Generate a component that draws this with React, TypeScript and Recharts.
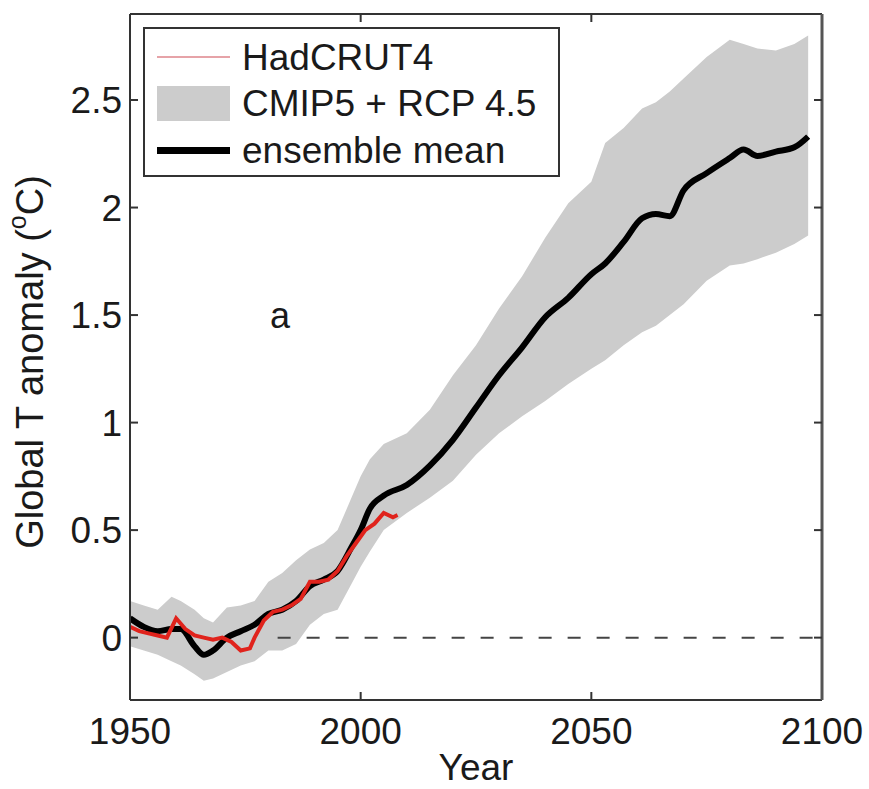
import React from 'react';
import { Area, ComposedChart, Line, ReferenceDot, ReferenceLine, XAxis, YAxis } from 'recharts';

const modelYears = [
  1950, 1953, 1956, 1959, 1961, 1964, 1966, 1968, 1971, 1974,
  1977, 1980, 1983, 1986, 1989, 1992, 1995, 1998, 2000, 2002,
  2005, 2010, 2015, 2020, 2025, 2030, 2035, 2040, 2045, 2050,
  2053, 2057, 2061, 2064, 2067, 2070, 2075, 2080, 2083, 2086,
  2090, 2094, 2097,
];
const ensembleMean = [
  0.09, 0.05, 0.03, 0.04, 0.04, -0.04, -0.08, -0.06, 0.0, 0.03,
  0.06, 0.11, 0.13, 0.17, 0.24, 0.27, 0.31, 0.42, 0.5, 0.6,
  0.66, 0.71, 0.8, 0.92, 1.07, 1.22, 1.35, 1.49, 1.58, 1.69,
  1.74, 1.84, 1.95, 1.97, 1.96, 2.08, 2.16, 2.23, 2.27, 2.24,
  2.26, 2.28, 2.33,
];
const rangeHigh = [
  0.17, 0.15, 0.13, 0.19, 0.17, 0.13, 0.09, 0.07, 0.14, 0.15,
  0.17, 0.26, 0.3, 0.36, 0.41, 0.44, 0.5, 0.65, 0.75, 0.83,
  0.9, 0.95, 1.06, 1.22, 1.36, 1.53, 1.68, 1.86, 2.02, 2.12,
  2.3, 2.37, 2.46, 2.49, 2.54, 2.6, 2.7, 2.78, 2.76, 2.74,
  2.73, 2.76, 2.8,
];
const rangeLow = [
  -0.04, -0.06, -0.08, -0.11, -0.13, -0.17, -0.2, -0.19, -0.16, -0.13,
  -0.11, -0.06, -0.06, -0.03, 0.06, 0.11, 0.13, 0.25, 0.33, 0.4,
  0.5, 0.58, 0.65, 0.73, 0.85, 0.95, 1.03, 1.1, 1.18, 1.25,
  1.29, 1.36, 1.42, 1.45, 1.5, 1.55, 1.66, 1.73, 1.74, 1.76,
  1.79, 1.83, 1.87,
];

const hadYears = [
  1950, 1952, 1954, 1956, 1958, 1960, 1962, 1964, 1966, 1968,
  1970, 1972, 1974, 1976, 1977, 1979, 1981, 1983, 1985, 1987,
  1989, 1991, 1993, 1995, 1997, 1999, 2001, 2003, 2005, 2007, 2008,
];
const hadValues = [
  0.05, 0.03, 0.02, 0.01, 0.0, 0.09, 0.04, 0.01, 0.0, -0.01,
  0.0, -0.02, -0.06, -0.05, 0.0, 0.08, 0.12, 0.13, 0.15, 0.18,
  0.26, 0.26, 0.27, 0.31, 0.38, 0.44, 0.5, 0.53, 0.58, 0.56, 0.57,
];

const xTicks = [1950, 2000, 2050, 2100];
const yTicks = [0, 0.5, 1, 1.5, 2, 2.5];

const modelData = modelYears.map((year, i) => ({
  year,
  mean: ensembleMean[i],
  range: [rangeLow[i], rangeHigh[i]],
}));
const hadData = hadYears.map((year, i) => ({ year, had: hadValues[i] }));

const FONT = '"Liberation Sans", Arial, Helvetica, sans-serif';
const AXIS = '#333';
const tickStyle = { fontSize: 37, fill: '#1a1a1a', fontFamily: FONT };

function LegendBox() {
  const row = { display: 'flex', alignItems: 'center', height: 46.5 };
  const text = { fontSize: 37, fontFamily: FONT, color: '#1a1a1a', marginLeft: 12, lineHeight: 1 };
  return (
    <div
      style={{
        position: 'absolute',
        left: 143,
        top: 27,
        width: 401,
        height: 141,
        border: `2px solid ${AXIS}`,
        background: '#fff',
        paddingTop: 5,
        paddingLeft: 12,
      }}
    >
      <div style={row}>
        <div style={{ width: 73, height: 2, background: '#e6a3a8' }} />
        <span style={text}>HadCRUT4</span>
      </div>
      <div style={row}>
        <div style={{ width: 73, height: 35, background: '#cccccc' }} />
        <span style={text}>CMIP5 + RCP 4.5</span>
      </div>
      <div style={row}>
        <div style={{ width: 73, height: 7, background: '#000' }} />
        <span style={text}>ensemble mean</span>
      </div>
    </div>
  );
}

function YLabel() {
  return (
    <text
      x={30}
      y={362}
      transform="rotate(-90, 30, 362)"
      textAnchor="middle"
      dominantBaseline="central"
      fontSize={38}
      fontFamily={FONT}
      fill="#1a1a1a"
    >
      Global T anomaly (<tspan fontSize={25} dy={-13}>o</tspan>
      <tspan dy={13}>C)</tspan>
    </text>
  );
}

export default function App() {
  return (
    <div style={{ position: 'absolute', left: 0, top: 0, width: 869, height: 789, background: '#fff' }}>
      <ComposedChart
        width={869}
        height={789}
        margin={{ top: 13, right: 46, bottom: 0, left: 0 }}
      >
        <XAxis
          xAxisId="bottom"
          dataKey="year"
          type="number"
          domain={[1950, 2100]}
          ticks={xTicks}
          allowDataOverflow
          height={89}
          tickSize={-8}
          tickMargin={26}
          axisLine={{ stroke: AXIS, strokeWidth: 2 }}
          tickLine={{ stroke: AXIS, strokeWidth: 2 }}
          tick={tickStyle}
          label={{ value: 'Year', position: 'insideBottom', offset: 9, fontSize: 37, fill: '#1a1a1a', fontFamily: FONT }}
        />
        <XAxis
          xAxisId="top"
          orientation="top"
          dataKey="year"
          type="number"
          domain={[1950, 2100]}
          ticks={xTicks}
          allowDataOverflow
          height={1}
          tickSize={-8}
          tickFormatter={() => ''}
          axisLine={{ stroke: AXIS, strokeWidth: 2 }}
          tickLine={{ stroke: AXIS, strokeWidth: 2 }}
        />
        <YAxis
          yAxisId="left"
          type="number"
          domain={[-0.29, 2.9]}
          ticks={yTicks}
          allowDataOverflow
          width={130}
          tickSize={-8}
          tickMargin={16}
          axisLine={{ stroke: AXIS, strokeWidth: 2 }}
          tickLine={{ stroke: AXIS, strokeWidth: 2 }}
          tick={tickStyle}
          label={<YLabel />}
        />
        <YAxis
          yAxisId="right"
          orientation="right"
          type="number"
          domain={[-0.29, 2.9]}
          ticks={yTicks}
          allowDataOverflow
          width={1}
          tickSize={-8}
          tickFormatter={() => ''}
          axisLine={{ stroke: '#555', strokeWidth: 3 }}
          tickLine={{ stroke: AXIS, strokeWidth: 2 }}
        />
        <ReferenceLine
          xAxisId="bottom"
          yAxisId="left"
          segment={[{ x: 1982, y: 0 }, { x: 2100, y: 0 }]}
          stroke="#444"
          strokeWidth={2}
          strokeDasharray="13 16"
        />
        <Area
          xAxisId="bottom"
          yAxisId="left"
          data={modelData}
          dataKey="range"
          type="linear"
          stroke="none"
          fill="#cccccc"
          fillOpacity={1}
          isAnimationActive={false}
          legendType="none"
        />
        <Line
          xAxisId="bottom"
          yAxisId="left"
          data={modelData}
          dataKey="mean"
          type="monotone"
          stroke="#000"
          strokeWidth={6}
          dot={false}
          isAnimationActive={false}
        />
        <Line
          xAxisId="bottom"
          yAxisId="left"
          data={hadData}
          dataKey="had"
          type="linear"
          stroke="#e0231c"
          strokeWidth={4}
          dot={false}
          isAnimationActive={false}
        />
        <ReferenceDot
          xAxisId="bottom"
          yAxisId="left"
          x={1982.5}
          y={1.5}
          r={0}
          stroke="none"
          label={{ value: 'a', position: 'center', fontSize: 36, fill: '#1a1a1a', fontFamily: FONT }}
        />
      </ComposedChart>
      <LegendBox />
    </div>
  );
}
